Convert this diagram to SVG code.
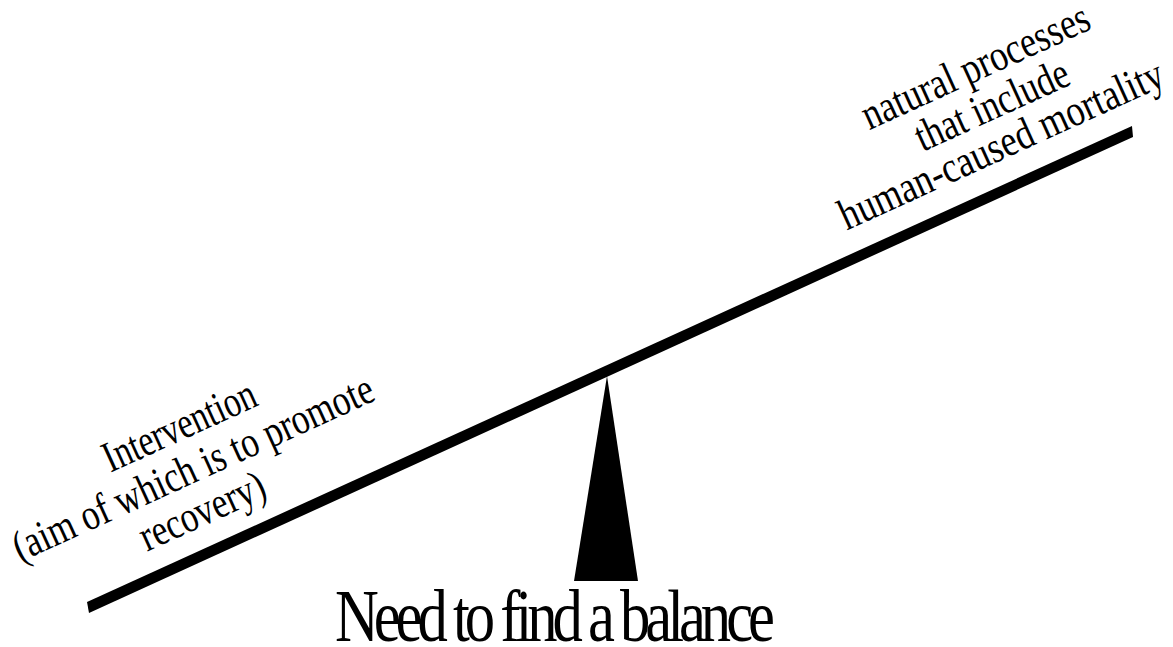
<svg xmlns="http://www.w3.org/2000/svg" width="1173" height="647" viewBox="0 0 1173 647">
<style>
.lbl{font-family:"Liberation Serif","Times New Roman",serif;font-size:44px;fill:#000;text-anchor:middle}
.title{font-family:"Liberation Serif","Times New Roman",serif;font-size:74px;fill:#000}
</style>
<rect width="1173" height="647" fill="#fff"/>
<g id="beam">
<polygon points="87,602 1132,126 1133,137 89,613" fill="#000"/>
</g>
<g id="fulcrum">
<polygon points="607,376 638,581 574,581" fill="#000"/>
</g>
<g id="left-label" transform="rotate(-24.5)">
<text class="lbl" x="-13.5" y="476" textLength="164" lengthAdjust="spacingAndGlyphs">Intervention</text>
<text class="lbl" x="-18.5" y="520" textLength="392" lengthAdjust="spacingAndGlyphs">(aim of which is to promote</text>
<text class="lbl" x="-28" y="563" textLength="134" lengthAdjust="spacingAndGlyphs">recovery)</text>
</g>
<g id="right-label" transform="rotate(-24.5)">
<text class="lbl" x="860" y="479" textLength="246" lengthAdjust="spacingAndGlyphs">natural processes</text>
<text class="lbl" x="859" y="521" textLength="165" lengthAdjust="spacingAndGlyphs">that include</text>
<text class="lbl" x="851" y="561" textLength="352" lengthAdjust="spacingAndGlyphs">human-caused mortality</text>
</g>
<g id="caption" transform="scale(0.82,1)">
<text class="title" x="408.5" y="641" textLength="536.6" lengthAdjust="spacing">Need to find a balance</text>
</g>
</svg>
